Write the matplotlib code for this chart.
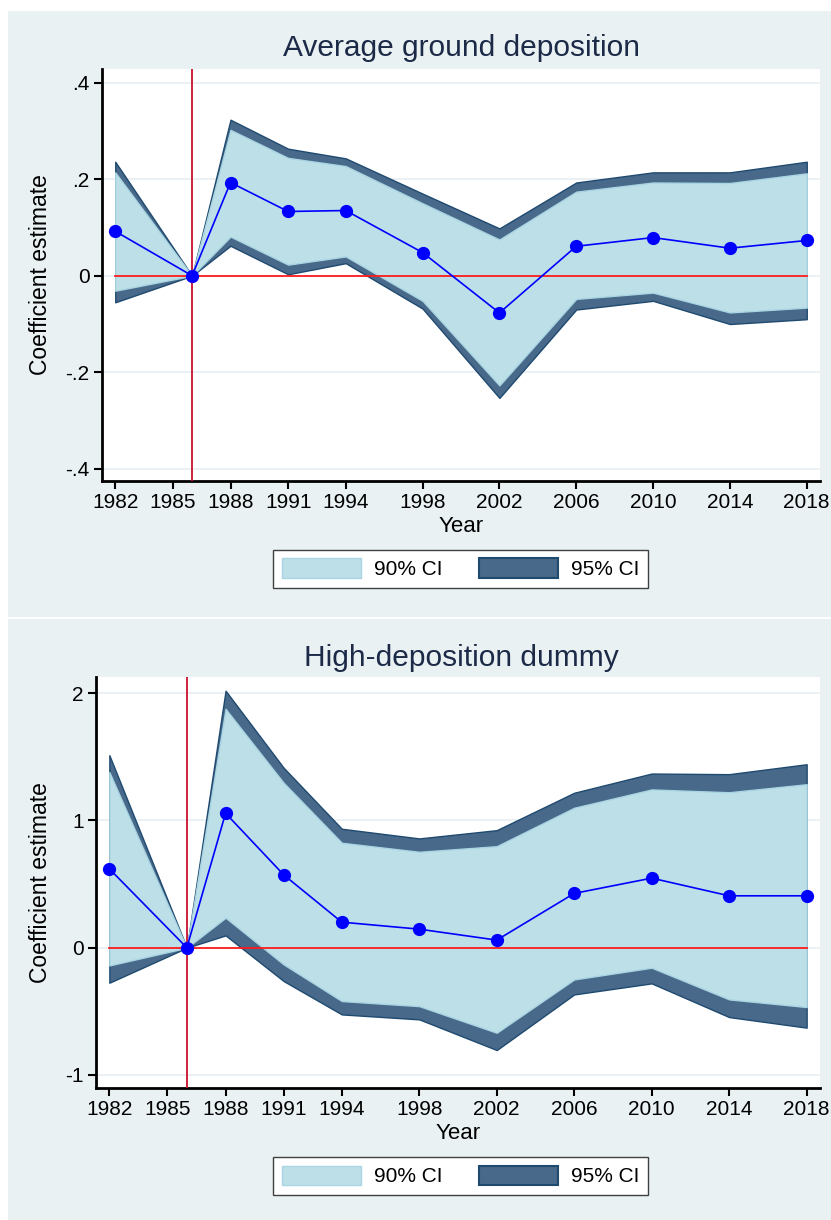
import numpy as np
import matplotlib.pyplot as plt
from matplotlib.patches import Rectangle, Patch

plt.rcParams['font.family'] = ['Liberation Sans', 'DejaVu Sans']

years = [1982, 1986, 1988, 1991, 1994, 1998, 2002, 2006, 2010, 2014, 2018]
xticks = [1982, 1985, 1988, 1991, 1994, 1998, 2002, 2006, 2010, 2014, 2018]

# panel 1: average ground deposition
avg_coef = [0.092, 0.0, 0.193, 0.133, 0.135, 0.048, -0.077, 0.061, 0.079, 0.057, 0.073]
avg_hi95 = [0.236, 0.0, 0.323, 0.263, 0.243, 0.170, 0.098, 0.193, 0.214, 0.214, 0.236]
avg_hi90 = [0.214, 0.0, 0.302, 0.244, 0.227, 0.150, 0.075, 0.174, 0.193, 0.192, 0.212]
avg_lo90 = [-0.031, 0.0, 0.081, 0.023, 0.040, -0.052, -0.227, -0.048, -0.035, -0.076, -0.066]
avg_lo95 = [-0.055, 0.0, 0.062, 0.003, 0.026, -0.068, -0.253, -0.070, -0.052, -0.100, -0.090]

# panel 2: high-deposition dummy
dum_coef = [0.620, 0.0, 1.057, 0.573, 0.201, 0.146, 0.060, 0.427, 0.547, 0.408, 0.408]
dum_hi95 = [1.513, 0.0, 2.020, 1.414, 0.935, 0.859, 0.924, 1.218, 1.369, 1.364, 1.442]
dum_hi90 = [1.380, 0.0, 1.877, 1.296, 0.825, 0.754, 0.798, 1.100, 1.244, 1.222, 1.285]
dum_lo90 = [-0.139, 0.0, 0.236, -0.131, -0.419, -0.459, -0.668, -0.249, -0.157, -0.406, -0.466]
dum_lo95 = [-0.275, 0.0, 0.097, -0.262, -0.524, -0.563, -0.804, -0.367, -0.280, -0.545, -0.628]

W, H = 831, 1220
BG = '#e9f1f3'
C90 = '#bddfe8'
C90E = '#a9d5e2'
C95 = '#48698a'
C95E = '#1f4a70'
GRID = '#e6eef1'
TITLE = '#1c2a48'

fig = plt.figure(figsize=(W / 100, H / 100), dpi=100)
fig.patch.set_facecolor('white')

def px_rect(x0, y0, x1, y1):
    return [x0 / W, 1 - y1 / H, (x1 - x0) / W, (y1 - y0) / H]

for (y0, y1) in [(11, 616.7), (619, 1220)]:
    fig.add_artist(Rectangle((8 / W, 1 - y1 / H), (W - 8) / W, (y1 - y0) / H,
                             transform=fig.transFigure, facecolor=BG, edgecolor='none', zorder=0))


def panel(box, title, title_y, coef, lo95, hi95, lo90, hi90, ylim, yticks, ylabels, ylab_x, leg_y):
    ax = fig.add_axes(px_rect(*box))
    ax.set_facecolor('white')
    ax.fill_between(years, lo95, hi95, facecolor=C95, edgecolor=C95E, lw=1.0, zorder=2)
    ax.fill_between(years, lo90, hi90, facecolor=C90, edgecolor=C90E, lw=1.0, zorder=3)
    ax.plot([years[0], years[-1]], [0, 0], color='#ff1a1a', lw=1.3, zorder=4)
    ax.axvline(1986, color='#c8102e', lw=1.3, zorder=4)
    ax.plot(years, coef, color='#0000ff', lw=1.2, marker='o', ms=8.5, zorder=5)
    ax.set_xlim(1981.31, 2018.69)
    ax.set_ylim(*ylim)
    ax.set_xticks(xticks)
    ax.set_yticks(yticks)
    ax.set_yticklabels(ylabels)
    for y in yticks:
        ax.axhline(y, color=GRID, lw=1.2, zorder=1)
    for s in ['top', 'right']:
        ax.spines[s].set_visible(False)
    for s in ['left', 'bottom']:
        ax.spines[s].set_linewidth(2)
    ax.tick_params(axis='both', labelsize=15, length=6, width=1.5, pad=3)
    ax.set_xlabel('Year', fontsize=16)
    ax.set_ylabel('Coefficient estimate', fontsize=16.5)
    ax.yaxis.set_label_coords(ylab_x, 0.5)
    ax.xaxis.set_label_coords(0.5, -0.085)
    fig.text(461 / W, 1 - title_y / H, title, fontsize=21.5, color=TITLE, ha='center', va='center')
    handles = [Patch(facecolor=C90, edgecolor=C90E, lw=1.0),
               Patch(facecolor=C95, edgecolor=C95E, lw=1.5)]
    leg = fig.legend(handles, ['90% CI', '95% CI'], loc='center', ncol=2,
                     bbox_to_anchor=(460.5 / W, 1 - leg_y / H), fontsize=15,
                     handlelength=3.8, handleheight=1.06, handletextpad=0.62,
                     columnspacing=1.73, borderpad=0.42, fancybox=False, framealpha=1)
    leg.get_frame().set_edgecolor('#404040')
    leg.get_frame().set_linewidth(1.0)
    return ax


panel((102, 69, 820, 481), 'Average ground deposition', 48, avg_coef, avg_lo95, avg_hi95,
      avg_lo90, avg_hi90, (-0.425, 0.428), [-0.4, -0.2, 0, 0.2, 0.4],
      ['-.4', '-.2', '0', '.2', '.4'], -0.0696, 568.8)
panel((96, 676.7, 820, 1087.7), 'High-deposition dummy', 657.5, dum_coef, dum_lo95, dum_hi95,
      dum_lo90, dum_hi90, (-1.10, 2.13), [-1, 0, 1, 2],
      ['-1', '0', '1', '2'], -0.0608, 1176)

fig.savefig('out.png', dpi=100)
